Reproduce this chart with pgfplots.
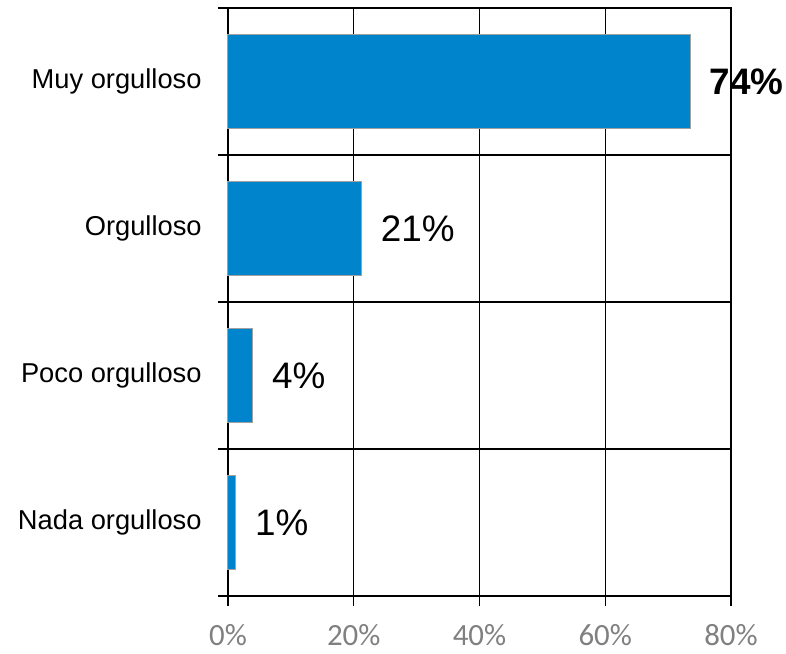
\documentclass[border=0pt]{standalone}
\usepackage{pgfplots}
\pgfplotsset{compat=1.18}
\usepackage{fontspec}
\setmainfont{Liberation Sans}
\newfontfamily\calibri{Carlito}
\definecolor{barblue}{RGB}{0,132,204}
\definecolor{bargray}{RGB}{160,160,160}
\definecolor{tickgray}{RGB}{128,128,128}
\begin{document}
\begin{tikzpicture}
\begin{axis}[
  xbar,
  scale only axis,
  width=251.5bp, height=294bp,
  xmin=0, xmax=80, ymin=-0.5, ymax=3.5,
  xtick={0,20,40,60,80},
  xticklabels={0\%,20\%,40\%,60\%,80\%},
  xticklabel style={font=\calibri\fontsize{15.5}{17}\selectfont, text=tickgray, inner sep=0pt, yshift=-9bp},
  ytick={-0.5,0.5,1.5,2.5,3.5},
  yticklabels={},
  extra y ticks={0,1,2,3},
  extra y tick labels={Nada orgulloso,Poco orgulloso,Orgulloso,Muy orgulloso},
  extra y tick style={major tick length=0pt, grid=none,
     yticklabel style={font=\fontsize{13.7}{15}\selectfont, inner sep=0pt, xshift=-13bp}},
  xmajorgrids=true, ymajorgrids=true,
  major grid style={black, line width=0.6pt},
  axis line style={black, line width=0.6pt},
  tick style={black, line width=0.6pt},
  major tick length=5bp,
  tick align=outside,
  tick pos=left,
  bar width=0.64,
  point meta=explicit symbolic,
  nodes near coords={\pgfplotspointmeta},
  nodes near coords style={anchor=west, inner sep=0pt, xshift=9.5bp, font=\fontsize{18.5}{20}\selectfont, text=black},
  clip=false,
]
\addplot[fill=barblue, draw=bargray, line width=0.5bp] coordinates {
  (1.2,0) [1\%]
  (3.9,1) [4\%]
  (21.2,2) [21\%]
  (73.5,3) [\textbf{74\%}]
};
\end{axis}
\pgfresetboundingbox
\path[use as bounding box] ([xshift=-114bp,yshift=-29bp]current axis.south west) rectangle ([xshift=27.5bp,yshift=4bp]current axis.north east);
\end{tikzpicture}
\end{document}
